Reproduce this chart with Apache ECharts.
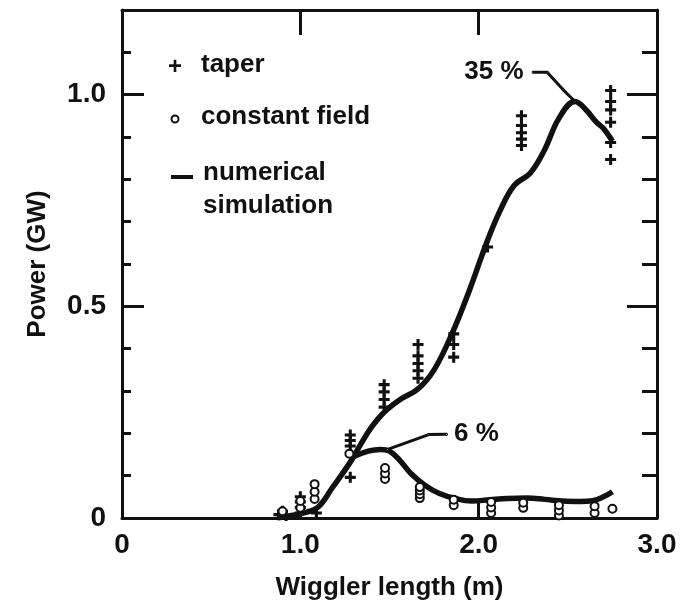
<!DOCTYPE html>
<html>
<head>
<meta charset="utf-8">
<script src="https://cdn.jsdelivr.net/npm/echarts@6/dist/echarts.min.js"></script>
<style>
  html, body { margin: 0; padding: 0; background: #fff; }
  #main { width: 680px; height: 612px; }
</style>
</head>
<body>
<div id="main"></div>
<script>
// numerical simulation, tapered wiggler
const taperSimX = [0.87, 0.95, 1.02, 1.10, 1.18, 1.28, 1.34, 1.40, 1.47, 1.56, 1.66, 1.75, 1.85, 1.95, 2.04, 2.12, 2.20, 2.29, 2.37, 2.45, 2.54, 2.60, 2.66, 2.70, 2.75];
const taperSimY = [0.0, 0.006, 0.012, 0.026, 0.072, 0.132, 0.175, 0.215, 0.25, 0.28, 0.305, 0.35, 0.435, 0.54, 0.645, 0.726, 0.786, 0.815, 0.87, 0.944, 0.984, 0.965, 0.935, 0.92, 0.89];

// numerical simulation, constant field (branches off the taper curve)
const constSimX = [1.30, 1.38, 1.45, 1.50, 1.56, 1.62, 1.70, 1.78, 1.87, 1.96, 2.06, 2.16, 2.27, 2.37, 2.47, 2.57, 2.64, 2.70, 2.75];
const constSimY = [0.145, 0.158, 0.162, 0.158, 0.135, 0.105, 0.077, 0.058, 0.046, 0.040, 0.043, 0.046, 0.047, 0.044, 0.040, 0.039, 0.041, 0.050, 0.062];

// measured points, taper (+)
const taperX = [0.88, 0.9, 0.92, 1.0, 1.0, 1.0, 1.0, 1.09, 1.28, 1.28, 1.28, 1.28, 1.47, 1.47, 1.47, 1.47, 1.66, 1.66, 1.66, 1.66, 1.66, 1.86, 1.86, 1.86, 2.05, 2.24, 2.24, 2.24, 2.24, 2.24, 2.74, 2.74, 2.74, 2.74, 2.74, 2.74];
const taperY = [0.008, 0.016, 0.006, 0.012, 0.025, 0.038, 0.05, 0.012, 0.096, 0.17, 0.183, 0.196, 0.262, 0.28, 0.298, 0.315, 0.33, 0.348, 0.365, 0.383, 0.41, 0.38, 0.41, 0.435, 0.64, 0.88, 0.895, 0.91, 0.927, 0.95, 0.847, 0.887, 0.935, 0.964, 0.984, 1.01];

// measured points, constant field (o)
const constX = [0.9, 1.0, 1.0, 1.08, 1.08, 1.08, 1.275, 1.475, 1.475, 1.475, 1.67, 1.67, 1.67, 1.67, 1.86, 1.86, 2.07, 2.07, 2.07, 2.25, 2.25, 2.45, 2.45, 2.45, 2.65, 2.65, 2.75];
const constY = [0.016, 0.024, 0.04, 0.045, 0.062, 0.08, 0.152, 0.092, 0.105, 0.118, 0.047, 0.056, 0.065, 0.073, 0.03, 0.043, 0.012, 0.025, 0.038, 0.024, 0.036, 0.006, 0.018, 0.03, 0.012, 0.028, 0.022];

// annotation leaders (data coords)
const lead35X = [2.305, 2.384, 2.473, 2.54];
const lead35Y = [1.053, 1.053, 1.012, 0.984];
const lead6X = [1.82, 1.72, 1.49];
const lead6Y = [0.198, 0.197, 0.162];

const xTickLabels = { 0: '0', 1: '1.0', 2: '2.0', 3: '3.0' };
const yTickLabels = { 0: '0', 0.5: '0.5', 1: '1.0' };

const zip = (xs, ys) => xs.map((x, i) => [x, ys[i]]);

const FONT = '"Liberation Sans", Arial, sans-serif';
const INK = '#111';
const plusPath = 'path://M3.6,0H6.4V3.6H10V6.4H6.4V10H3.6V6.4H0V3.6H3.6Z';

const chart = echarts.init(document.getElementById('main'));

const axisLine = { show: true, onZero: false, lineStyle: { color: INK, width: 3 } };
const noLine = { show: false, onZero: false };
const tickStyle = { color: INK, width: 3 };

const option = {
  animation: false,
  backgroundColor: '#fff',
  grid: { left: 122, right: 23, top: 10, bottom: 94, show: false },
  xAxis: [
    {
      type: 'value', position: 'bottom', min: 0, max: 3, interval: 1,
      axisLine: axisLine,
      axisTick: { inside: true, length: 15, lineStyle: tickStyle },
      splitLine: { show: false },
      axisLabel: {
        margin: 13, color: INK, fontSize: 28, fontWeight: 'bold', fontFamily: FONT,
        formatter: v => xTickLabels[v] !== undefined ? xTickLabels[v] : ''
      },
      name: 'Wiggler length (m)', nameLocation: 'middle', nameGap: 57,
      nameTextStyle: { color: INK, fontSize: 26, fontWeight: 'bold', fontFamily: FONT }
    },
    {
      type: 'value', position: 'top', min: 0, max: 3, interval: 1,
      axisLine: axisLine,
      axisTick: { inside: true, length: 25, lineStyle: tickStyle },
      axisLabel: { show: false },
      splitLine: { show: false }
    }
  ],
  yAxis: [
    {
      type: 'value', position: 'left', min: 0, max: 1.2, interval: 0.5,
      axisLine: axisLine,
      axisTick: { inside: true, length: 22, lineStyle: tickStyle },
      splitLine: { show: false },
      axisLabel: {
        margin: 16, color: INK, fontSize: 28, fontWeight: 'bold', fontFamily: FONT,
        formatter: v => yTickLabels[v] !== undefined ? yTickLabels[v] : ''
      },
      name: 'Power (GW)', nameLocation: 'middle', nameGap: 71,
      nameTextStyle: { color: INK, fontSize: 26, fontWeight: 'bold', fontFamily: FONT }
    },
    {
      type: 'value', position: 'left', min: 0, max: 1.2, interval: 0.1,
      axisLine: noLine,
      axisTick: { inside: true, length: 9, lineStyle: tickStyle },
      axisLabel: { show: false },
      splitLine: { show: false }
    },
    {
      type: 'value', position: 'right', min: 0, max: 1.2, interval: 0.5,
      axisLine: axisLine,
      axisTick: { inside: true, length: 30, lineStyle: tickStyle },
      axisLabel: { show: false },
      splitLine: { show: false }
    },
    {
      type: 'value', position: 'right', min: 0, max: 1.2, interval: 0.1,
      axisLine: noLine,
      axisTick: { inside: true, length: 15, lineStyle: tickStyle },
      axisLabel: { show: false },
      splitLine: { show: false }
    }
  ],
  graphic: [
    // legend, drawn by hand to keep the two-line entry aligned like the original
    { type: 'text', left: 168, top: 55, style: { text: '+', fill: INK, font: 'bold 24px ' + FONT } },
    { type: 'text', left: 201, top: 52, style: { text: 'taper', fill: INK, font: 'bold 26px ' + FONT } },
    { type: 'circle', shape: { cx: 175, cy: 119, r: 3.5 }, style: { fill: '#fff', stroke: INK, lineWidth: 2 } },
    { type: 'text', left: 201, top: 104, style: { text: 'constant field', fill: INK, font: 'bold 26px ' + FONT } },
    { type: 'rect', shape: { x: 171, y: 175, width: 22, height: 4 }, style: { fill: INK } },
    { type: 'text', left: 203, top: 160, style: { text: 'numerical', fill: INK, font: 'bold 26px ' + FONT } },
    { type: 'text', left: 203, top: 193, style: { text: 'simulation', fill: INK, font: 'bold 26px ' + FONT } }
  ],
  series: [
    {
      name: 'numerical simulation', type: 'line', smooth: 0.4, showSymbol: false,
      data: zip(taperSimX, taperSimY),
      lineStyle: { color: INK, width: 5.5 }, z: 2
    },
    {
      name: 'numerical simulation', type: 'line', smooth: 0.4, showSymbol: false,
      data: zip(constSimX, constSimY),
      lineStyle: { color: INK, width: 5.5 }, z: 2
    },
    {
      name: 'taper', type: 'scatter', symbol: plusPath, symbolSize: 11,
      data: zip(taperX, taperY),
      itemStyle: { color: INK, opacity: 1 }, z: 3
    },
    {
      name: 'constant field', type: 'scatter', symbol: 'circle', symbolSize: 8,
      data: zip(constX, constY),
      itemStyle: { color: '#fff', borderColor: INK, borderWidth: 2, opacity: 1 }, z: 4
    },
    {
      name: 'lead35', type: 'line', symbolSize: 1, showSymbol: true,
      lineStyle: { color: INK, width: 3 }, itemStyle: { color: INK },
      data: zip(lead35X, lead35Y).map((p, i) => i === 0 ? {
        value: p,
        label: { show: true, position: 'left', distance: 8, formatter: '35 %', color: INK, fontSize: 26, fontWeight: 'bold', fontFamily: FONT }
      } : p),
      z: 2
    },
    {
      name: 'lead6', type: 'line', symbolSize: 1, showSymbol: true,
      lineStyle: { color: INK, width: 3 }, itemStyle: { color: INK },
      data: zip(lead6X, lead6Y).map((p, i) => i === 0 ? {
        value: p,
        label: { show: true, position: 'right', distance: 6, formatter: '6 %', color: INK, fontSize: 26, fontWeight: 'bold', fontFamily: FONT }
      } : p),
      z: 2
    }
  ]
};

chart.setOption(option);
window.addEventListener('resize', () => chart.resize());
</script>
</body>
</html>
